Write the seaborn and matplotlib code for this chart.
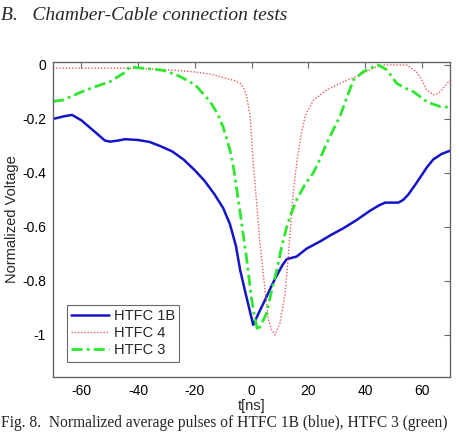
import matplotlib
matplotlib.use("Agg")
import matplotlib.pyplot as plt
import seaborn as sns
import numpy as np

# ---- data ----
t_1b = [-70, -66, -63.3, -60, -55, -51.7, -49.9, -47, -44.6, -40, -36, -32.3, -28, -24, -20, -16.5, -13, -10, -7.6, -5.5, -4, -2, 0.6,
        2.5, 4.8, 7, 8.9, 11, 12.4, 14, 15.9, 19.5, 24, 28, 32.4, 37, 41.8, 45, 47.1, 50, 51.8, 53.5, 55.3, 58, 61.8, 64.1, 67, 69.4, 70]
v_1b = [-0.20, -0.19, -0.185, -0.205, -0.25, -0.28, -0.284, -0.28, -0.275, -0.278, -0.285, -0.30, -0.32, -0.35, -0.39, -0.43, -0.48, -0.53, -0.59, -0.67, -0.76, -0.85, -0.963,
        -0.92, -0.87, -0.82, -0.78, -0.74, -0.72, -0.715, -0.71, -0.68, -0.655, -0.63, -0.605, -0.575, -0.54, -0.52, -0.51, -0.51, -0.51, -0.50, -0.48, -0.44, -0.38, -0.35, -0.33, -0.32, -0.318]

t_4 = [-70, -67.5, -60, -50, -40.5, -30, -20.5, -14, -8.8, -6, -4, -2.5, -1.7, -0.5, 0.6, 1.8, 3, 4.2, 5.9, 7, 8.3, 10, 11.8, 12.9, 14.7, 16.1, 17.5, 18.9,
       21.8, 26.5, 32.4, 38.4, 44.1, 46.5, 50, 54.7, 58.2, 60, 61.8, 64.1, 66, 67.6, 70]
v_4 = [-0.012, -0.012, -0.012, -0.012, -0.012, -0.018, -0.025, -0.035, -0.05, -0.058, -0.068, -0.09, -0.117, -0.19, -0.36, -0.51, -0.66, -0.78, -0.94, -0.98, -1.0, -0.957, -0.85, -0.72, -0.475, -0.35, -0.26, -0.19,
       -0.13, -0.093, -0.062, -0.037, -0.006, 0.0, 0.0, 0.0, -0.025, -0.055, -0.093, -0.11, -0.105, -0.086, -0.056]

t_3 = [-70, -66.5, -60, -55, -49.9, -45, -42.8, -40.5, -35, -31.1, -26.4, -22, -19.3, -14.6, -12, -10, -7.6, -6.4, -4.1, -1.7, 0.06, 1.2, 2.2, 3.5, 5.3, 7, 8.9, 10.5, 12.4,
       14, 15.9, 19, 21.8, 24.1, 26.5, 31.2, 35.9, 39.4, 42, 44.7, 47.7, 51.2, 54, 57.1, 61.8, 64, 66.5, 70]
v_3 = [-0.135, -0.13, -0.10, -0.08, -0.062, -0.03, -0.006, -0.01, -0.015, -0.02, -0.037, -0.06, -0.08, -0.136, -0.18, -0.23, -0.315, -0.376, -0.54, -0.72, -0.87, -0.94, -0.985, -0.96, -0.92, -0.84, -0.76, -0.68, -0.60,
       -0.55, -0.50, -0.44, -0.40, -0.35, -0.29, -0.19, -0.056, -0.025, -0.012, 0.0, -0.018, -0.068, -0.085, -0.099, -0.136, -0.145, -0.154, -0.157]

labels = ["HTFC 1B", "HTFC 4", "HTFC 3"]
xticks = [-60, -40, -20, 0, 20, 40, 60]
yticks = [0, -0.2, -0.4, -0.6, -0.8, -1]
ytick_labels = ["0", "-0.2", "-0.4", "-0.6", "-0.8", "-1"]

# ---- style ----
sns.set_theme(style="white")
plt.rcParams["font.family"] = ["Liberation Sans", "DejaVu Sans"]
plt.rcParams["axes.unicode_minus"] = False

fig = plt.figure(figsize=(4.59, 4.32), dpi=100)
ax = fig.add_axes([53 / 459, 1 - 376.7 / 432, (450 - 53) / 459, (376.7 - 62) / 432])

sns.lineplot(x=t_1b, y=v_1b, ax=ax, color="#1414c8", lw=1.8, linestyle="-", label=labels[0], sort=False)
sns.lineplot(x=t_4, y=v_4, ax=ax, color="#ee5a5e", lw=1.0, linestyle=(0, (1, 1.3)), label=labels[1], sort=False)
sns.lineplot(x=t_3, y=v_3, ax=ax, color="#2ee62e", lw=2.0, linestyle=(0, (4, 1.5, 1, 1.5)), label=labels[2], sort=False)

ax.set_xlim(-70, 70)
ax.set_ylim(-1.155, 0.011)
ax.set_xticks(xticks)
ax.set_xticklabels([str(v) for v in xticks])
ax.set_yticks(yticks)
ax.set_yticklabels(ytick_labels)
ax.tick_params(direction="in", length=4, width=0.8, color="#666666", top=True, right=True,
               labelsize=10, labelcolor="black", pad=5)
for s in ax.spines.values():
    s.set_color("#666666")
    s.set_linewidth(1.0)
ax.set_xlabel("t[ns]", fontsize=10.5, labelpad=1)
ax.set_ylabel("Normalized Voltage", fontsize=10.5, labelpad=2)

leg = ax.legend(loc="lower left", bbox_to_anchor=((67 - 53) / 397, (376.7 - 361.7) / 314.7),
                frameon=True, fancybox=False, fontsize=10.5, handlelength=2.6,
                borderpad=0.3, labelspacing=0.2, handletextpad=0.3, borderaxespad=0)
leg.get_frame().set_edgecolor("#444444")
leg.get_frame().set_linewidth(0.8)

# header and caption text (document context)
fig.text(0.002, 1 - 15 / 432, "B.   Chamber-Cable connection tests", fontsize=14.0, style="italic",
         family=["Liberation Serif", "DejaVu Serif"], va="center", ha="left")
fig.text(0.002, 1 - 423 / 432, "Fig. 8.  Normalized average pulses of HTFC 1B (blue), HTFC 3 (green)",
         fontsize=11.2, family=["Liberation Serif", "DejaVu Serif"], va="center", ha="left")

fig.savefig("out.png", dpi=100)
